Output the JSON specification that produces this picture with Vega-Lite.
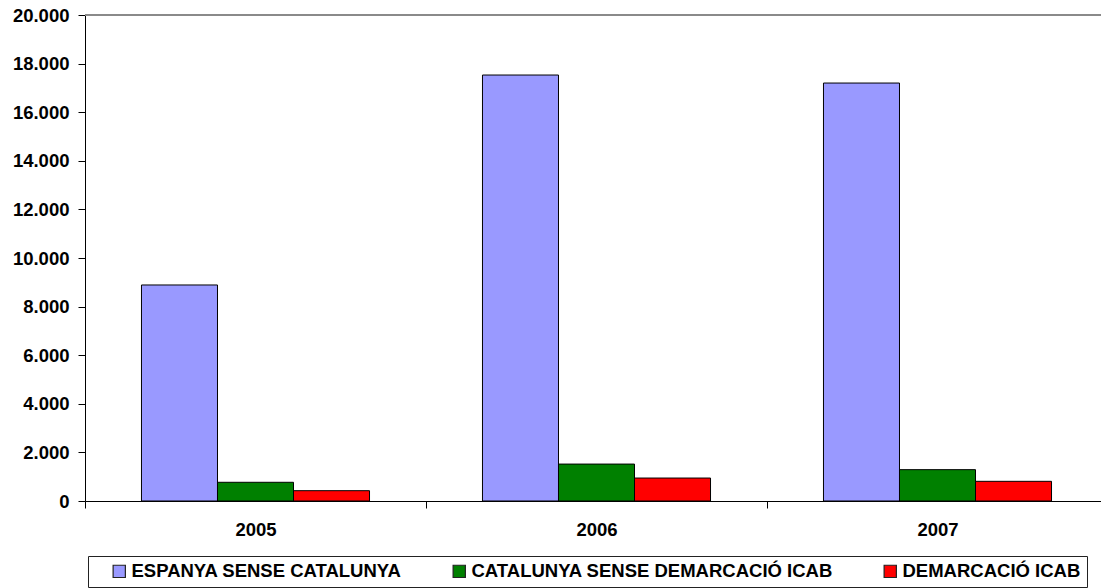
{
  "$schema": "https://vega.github.io/schema/vega-lite/v6.json",
  "autosize": "none",
  "width": 1023,
  "height": 486,
  "padding": {"left": 85, "top": 15, "right": 0, "bottom": 87},
  "background": "white",
  "config": {
    "locale": {"number": {"decimal": ",", "thousands": ".", "grouping": [3], "currency": ["", " €"]}},
    "font": "Liberation Sans",
    "view": {"stroke": null},
    "axis": {"labelColor": "black", "domainColor": "black", "tickColor": "black", "grid": false, "title": null},
    "legend": {"labelColor": "black"}
  },
  "data": {"values": [
    {"year": "2005", "serie": "ESPANYA SENSE CATALUNYA", "value": 8890},
    {"year": "2005", "serie": "CATALUNYA SENSE DEMARCACIÓ ICAB", "value": 770},
    {"year": "2005", "serie": "DEMARCACIÓ ICAB", "value": 425},
    {"year": "2006", "serie": "ESPANYA SENSE CATALUNYA", "value": 17530},
    {"year": "2006", "serie": "CATALUNYA SENSE DEMARCACIÓ ICAB", "value": 1520},
    {"year": "2006", "serie": "DEMARCACIÓ ICAB", "value": 945},
    {"year": "2007", "serie": "ESPANYA SENSE CATALUNYA", "value": 17200},
    {"year": "2007", "serie": "CATALUNYA SENSE DEMARCACIÓ ICAB", "value": 1290},
    {"year": "2007", "serie": "DEMARCACIÓ ICAB", "value": 810}
  ]},
  "layer": [
    {
      "mark": {"type": "rule", "color": "#8a8a8a", "strokeWidth": 1.5},
      "encoding": {"y": {"datum": 20000, "type": "quantitative"}}
    },
    {
      "mark": {"type": "bar", "stroke": "black", "strokeWidth": 1},
      "encoding": {
        "x": {
          "field": "year", "type": "nominal",
          "scale": {"paddingInner": 0, "paddingOuter": 0},
          "axis": {"labelAngle": 0, "tickBand": "extent", "tickSize": 7, "labelPadding": 12, "domainWidth": 1, "labelFontSize": 18.5, "labelFontWeight": "bold", "labelFont": "Liberation Sans"}
        },
        "xOffset": {
          "field": "serie", "type": "nominal",
          "sort": ["ESPANYA SENSE CATALUNYA", "CATALUNYA SENSE DEMARCACIÓ ICAB", "DEMARCACIÓ ICAB"],
          "scale": {"paddingInner": 0, "paddingOuter": 0.743}
        },
        "y": {
          "field": "value", "type": "quantitative",
          "scale": {"domain": [0, 20000], "nice": false},
          "axis": {"values": [0, 2000, 4000, 6000, 8000, 10000, 12000, 14000, 16000, 18000, 20000], "format": ",d", "tickSize": 7, "labelPadding": 9, "labelFontSize": 18.5, "labelFontWeight": "bold", "labelFont": "Liberation Sans"}
        },
        "color": {
          "field": "serie", "type": "nominal",
          "sort": ["ESPANYA SENSE CATALUNYA", "CATALUNYA SENSE DEMARCACIÓ ICAB", "DEMARCACIÓ ICAB"],
          "scale": {"domain": ["ESPANYA SENSE CATALUNYA", "CATALUNYA SENSE DEMARCACIÓ ICAB", "DEMARCACIÓ ICAB"], "range": ["#9999ff", "#008000", "#ff0000"]},
          "legend": {
            "title": null, "orient": "none", "direction": "horizontal",
            "legendX": 3, "legendY": 541,
            "strokeColor": "#222222", "padding": 6,
            "symbolType": "square", "symbolSize": 150, "symbolStrokeColor": "#222222", "symbolStrokeWidth": 1.2,
            "symbolOffset": 16, "labelOffset": 3, "columnPadding": 32, "labelLimit": 600,
            "labelFontSize": 18.5, "labelFontWeight": "bold", "labelFont": "Liberation Sans"
          }
        }
      }
    }
  ]
}
